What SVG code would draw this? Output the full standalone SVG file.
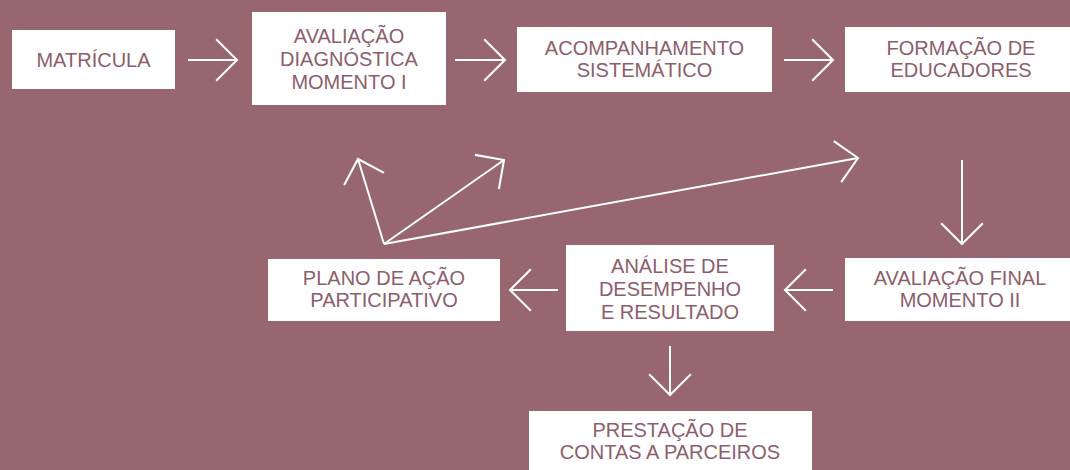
<svg xmlns="http://www.w3.org/2000/svg" width="1070" height="470" viewBox="0 0 1070 470">
<style>
.box{fill:#ffffff}
.t{font-family:"Liberation Sans",Arial,sans-serif;font-size:20px;fill:#8d5e6a;text-anchor:middle}
.c{stroke:#ffffff;stroke-width:2;fill:none}
</style>
<defs>
<marker id="ch" markerUnits="userSpaceOnUse" markerWidth="30" markerHeight="50" viewBox="-24 -24 28 48" refX="0" refY="0" orient="auto">
<path d="M-20,-20 L0,0 L-20,20" fill="none" stroke="#ffffff" stroke-width="2"/>
</marker>
</defs>
<rect x="0" y="0" width="1070" height="470" fill="#976670"/>
<g id="n-matricula"><rect class="box" x="12" y="30" width="163" height="59"/><text class="t" x="93.5" y="67">MATRÍCULA</text></g>
<g id="n-avaliacao-diag"><rect class="box" x="252" y="12" width="194" height="93"/><text class="t" x="349" y="43">AVALIAÇÃO</text><text class="t" x="349" y="66">DIAGNÓSTICA</text><text class="t" x="349" y="89">MOMENTO I</text></g>
<g id="n-acompanhamento"><rect class="box" x="517" y="27" width="255" height="65"/><text class="t" x="644.5" y="55">ACOMPANHAMENTO</text><text class="t" x="644.5" y="77">SISTEMÁTICO</text></g>
<g id="n-formacao"><rect class="box" x="845" y="27" width="225" height="65"/><text class="t" x="961" y="55">FORMAÇÃO DE</text><text class="t" x="961" y="77">EDUCADORES</text></g>
<g id="n-avaliacao-final"><rect class="box" x="845" y="258" width="225" height="63"/><text class="t" x="960" y="285">AVALIAÇÃO FINAL</text><text class="t" x="960" y="307">MOMENTO II</text></g>
<g id="n-analise"><rect class="box" x="566" y="245" width="208" height="86"/><text class="t" x="670" y="273">ANÁLISE DE</text><text class="t" x="670" y="296">DESEMPENHO</text><text class="t" x="670" y="319">E RESULTADO</text></g>
<g id="n-plano"><rect class="box" x="268" y="259" width="232" height="62"/><text class="t" x="384" y="285">PLANO DE AÇÃO</text><text class="t" x="384" y="307">PARTICIPATIVO</text></g>
<g id="n-prestacao"><rect class="box" x="529" y="411" width="283" height="59"/><text class="t" x="670" y="437">PRESTAÇÃO DE</text><text class="t" x="670" y="459">CONTAS A PARCEIROS</text></g>
<g id="connectors">
<line class="c" x1="188" y1="60" x2="237" y2="60" marker-end="url(#ch)"/>
<line class="c" x1="455" y1="60" x2="505" y2="60" marker-end="url(#ch)"/>
<line class="c" x1="784" y1="60" x2="833" y2="60" marker-end="url(#ch)"/>
<line class="c" x1="962" y1="160" x2="962" y2="244" marker-end="url(#ch)"/>
<line class="c" x1="833" y1="290" x2="785" y2="290" marker-end="url(#ch)"/>
<line class="c" x1="558" y1="290" x2="510" y2="290" marker-end="url(#ch)"/>
<line class="c" x1="670" y1="346" x2="670" y2="395" marker-end="url(#ch)"/>
<line class="c" x1="384" y1="244" x2="358" y2="159" marker-end="url(#ch)"/>
<line class="c" x1="384" y1="244" x2="504" y2="160" marker-end="url(#ch)"/>
<line class="c" x1="384" y1="244" x2="858" y2="158" marker-end="url(#ch)"/>
</g>
</svg>
